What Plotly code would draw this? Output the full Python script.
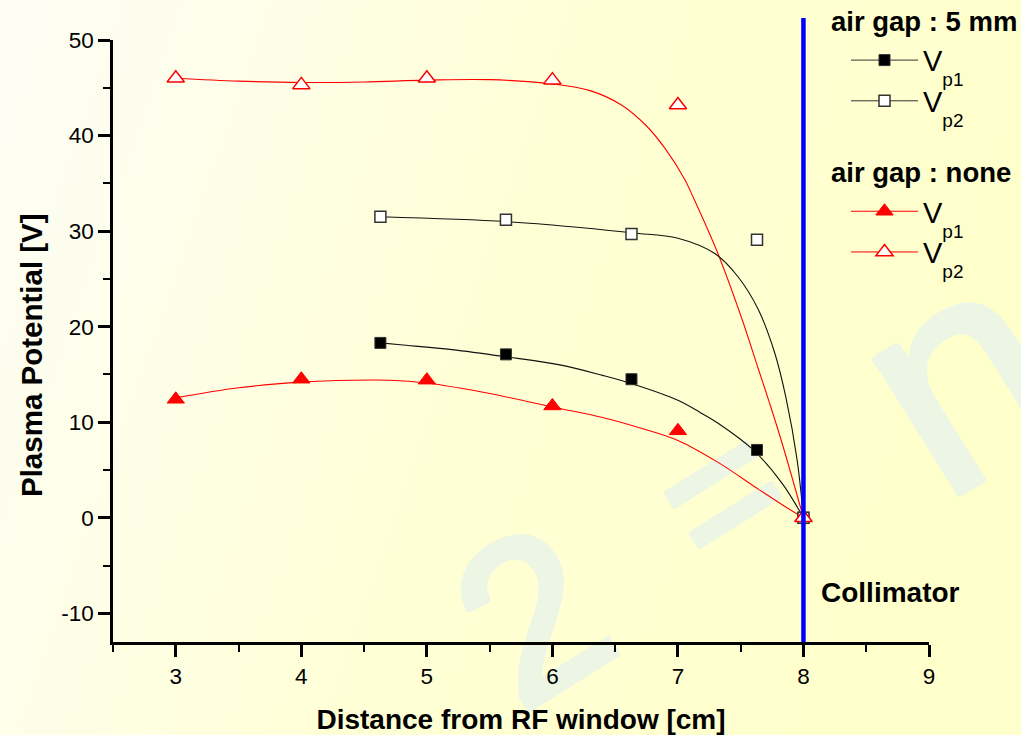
import base64
import plotly.graph_objects as go

# ---------------- data ----------------
x_5mm = [4.63, 5.63, 6.63, 7.63, 8.0]
vp1_5mm = [18.3, 17.1, 14.5, 7.1, 0.0]
vp2_5mm = [31.5, 31.2, 29.7, 29.1, 0.0]

x_none = [3, 4, 5, 6, 7, 8]
vp1_none = [12.4, 14.5, 14.4, 11.7, 9.1, 0.0]
vp2_none = [46.0, 45.3, 46.0, 45.8, 43.2, 0.0]

# fitted curves as drawn in the picture
fit_vp1_5mm_x = [4.63, 4.79, 5.2, 5.63, 6.06, 6.4, 6.64, 7.0, 7.18, 7.32, 7.6, 7.83, 8.0]
fit_vp1_5mm_y = [18.3, 18.1, 17.6, 16.85, 16.0, 14.9, 14.0, 12.3, 11.0, 9.9, 7.1, 3.6, 0.0]

fit_vp2_5mm_x = [4.63, 5.63, 6.2, 6.64, 7.0, 7.3, 7.48, 7.64, 7.77, 7.86, 7.95, 8.0]
fit_vp2_5mm_y = [31.5, 31.0, 30.4, 29.8, 29.25, 27.6, 25.2, 21.8, 17.3, 12.6, 6.0, 0.0]

fit_vp1_none_x = [3.0, 3.5, 4.0, 4.4, 4.7, 5.0, 5.5, 6.0, 6.4, 6.7, 7.0, 7.32, 7.64, 7.85, 8.0]
fit_vp1_none_y = [12.55, 13.6, 14.2, 14.4, 14.4, 14.1, 13.0, 11.6, 10.5, 9.4, 8.1, 5.8, 3.0, 1.2, 0.0]

fit_vp2_none_x = [3.0, 3.5, 4.0, 4.5, 5.0, 5.5, 6.0, 6.3, 6.55, 6.75, 6.9, 7.05, 7.13, 7.32, 7.51,
                  7.64, 7.73, 7.83, 8.0]
fit_vp2_none_y = [46.0, 45.7, 45.55, 45.6, 45.8, 45.85, 45.4, 44.7, 43.2, 41.0, 38.6, 35.5, 33.3, 27.6,
                  20.8, 15.6, 12.0, 7.8, 0.0]

collimator_x = 8
x_ticks = [3, 4, 5, 6, 7, 8, 9]
y_ticks = [-10, 0, 10, 20, 30, 40, 50]

# ---------------- figure ----------------
W, H = 1021, 735
L, R, T, B = 113, 92, 40, 93
PW, PH = W - L - R, H - T - B

BLACK = "#111111"
RED = "#ff0000"
FONT = "Arial, Liberation Sans, sans-serif"

fig = go.Figure()

# fitted curves
for fx, fy, col in [
    (fit_vp2_none_x, fit_vp2_none_y, RED),
    (fit_vp1_none_x, fit_vp1_none_y, RED),
    (fit_vp2_5mm_x, fit_vp2_5mm_y, BLACK),
    (fit_vp1_5mm_x, fit_vp1_5mm_y, BLACK),
]:
    fig.add_trace(go.Scatter(x=fx, y=fy, mode="lines", line=dict(color=col, width=1.1, shape="spline"),
                             showlegend=False, hoverinfo="skip"))

# data markers
fig.add_trace(go.Scatter(x=x_5mm, y=vp1_5mm, mode="markers", showlegend=False,
                         marker=dict(symbol="square", size=11, color="black", line=dict(color="#333", width=1))))
fig.add_trace(go.Scatter(x=x_5mm, y=vp2_5mm, mode="markers", showlegend=False,
                         marker=dict(symbol="square", size=11, color="white", line=dict(color="#333", width=1.5))))
fig.add_trace(go.Scatter(x=x_none, y=vp1_none, mode="markers", showlegend=False,
                         marker=dict(symbol="triangle-up", size=15, color=RED, line=dict(color=RED, width=1))))
fig.add_trace(go.Scatter(x=x_none, y=vp2_none, mode="markers", showlegend=False,
                         marker=dict(symbol="triangle-up", size=15, color="white", line=dict(color=RED, width=1.5))))

# legend entries
leg_font = dict(family=FONT, size=29, color="black")
title_font = dict(family=FONT, size=27.5, color="black")
SUB = "<span style='font-size:19px;baseline-shift:-15px'>{}</span>"
fig.add_trace(go.Scatter(x=[None], y=[None], mode="lines+markers", name="V" + SUB.format("p1"),
                         legendgroup="g5", legendgrouptitle=dict(text="<b>air gap : 5 mm</b>", font=title_font),
                         line=dict(color="#333", width=1),
                         marker=dict(symbol="square", size=11, color="black", line=dict(color="#333", width=1))))
fig.add_trace(go.Scatter(x=[None], y=[None], mode="lines+markers", name="V" + SUB.format("p2"),
                         legendgroup="g5",
                         line=dict(color="#333", width=1),
                         marker=dict(symbol="square", size=11, color="white", line=dict(color="#333", width=1.5))))
fig.add_trace(go.Scatter(x=[None], y=[None], mode="lines+markers", name="V" + SUB.format("p1"),
                         legendgroup="gn", legendgrouptitle=dict(text="<b>air gap : none</b>", font=title_font),
                         line=dict(color=RED, width=1),
                         marker=dict(symbol="triangle-up", size=15, color=RED, line=dict(color=RED, width=1))))
fig.add_trace(go.Scatter(x=[None], y=[None], mode="lines+markers", name="V" + SUB.format("p2"),
                         legendgroup="gn",
                         line=dict(color=RED, width=1),
                         marker=dict(symbol="triangle-up", size=15, color="white", line=dict(color=RED, width=1.5))))
# empty spacer row so the last subscript is not clipped by the legend box
fig.add_trace(go.Scatter(x=[None], y=[None], mode="lines", name=" ", legendgroup="gn",
                         line=dict(color="rgba(0,0,0,0)", width=0), hoverinfo="skip"))

# background gradient + faint watermark as an svg image
def wm(ch, cx, cy, size):
    return (f'<text x="{cx}" y="{cy}" transform="rotate(-32 {cx} {cy})" font-family="Liberation Sans, Arial" '
            f'font-size="{size}" text-anchor="middle" dominant-baseline="central" fill="#edf6e4" '
            f'stroke="#edf6e4" stroke-width="7" stroke-linejoin="round">{ch}</text>')

svg = f'''<svg xmlns="http://www.w3.org/2000/svg" width="{W}" height="{H}" viewBox="0 0 {W} {H}">
<defs><linearGradient id="g" x1="0" y1="0" x2="1" y2="0.25">
<stop offset="0" stop-color="#fdfdf5"/><stop offset="0.2" stop-color="#fefeec"/>
<stop offset="0.55" stop-color="#ffffd6"/><stop offset="1" stop-color="#ffffcc"/></linearGradient></defs>
<rect width="{W}" height="{H}" fill="url(#g)"/>
{wm("2", 532, 615, 225)}
{wm("=", 721, 492, 190)}
{wm("n", 958, 372, 300)}
</svg>'''
uri = "data:image/svg+xml;base64," + base64.b64encode(svg.encode()).decode()
fig.add_layout_image(dict(source=uri, xref="paper", yref="paper", x=-L / PW, y=1 + T / PH,
                          sizex=W / PW, sizey=H / PH, xanchor="left", yanchor="top",
                          sizing="stretch", layer="below"))

# collimator line
fig.add_shape(type="line", xref="x", yref="paper", x0=collimator_x, x1=collimator_x,
              y0=0, y1=1 + 22 / PH, line=dict(color="#0000ff", width=4.5), layer="above")
fig.add_annotation(text="<b>Collimator</b>", xref="paper", yref="y", x=(819 - L) / PW, y=-7.85,
                   xanchor="left", yanchor="middle", showarrow=False,
                   font=dict(family=FONT, size=28, color="black"))
# y axis title (placed as in the picture, slightly below the plot centre)
fig.add_annotation(text="<b>Plasma Potential [V]</b>", xref="paper", yref="paper",
                   x=(31 - L) / PW, y=1 - (355 - T) / PH, xanchor="center", yanchor="middle",
                   textangle=-90, showarrow=False, font=dict(family=FONT, size=29.5, color="black"))

axis_common = dict(showline=True, linecolor="black", linewidth=2.5, ticks="outside", ticklen=12,
                   tickwidth=2.5, tickcolor="black", showgrid=False, zeroline=False, mirror=False,
                   tickfont=dict(family=FONT, size=22.5, color="black"))

fig.update_layout(
    width=W, height=H, margin=dict(l=L, r=R, t=T, b=B, autoexpand=False),
    paper_bgcolor="white", plot_bgcolor="rgba(0,0,0,0)",
    xaxis=dict(range=[2.5, 9], tickvals=x_ticks, ticktext=[str(v) for v in x_ticks],
               minor=dict(dtick=0.5, tick0=0, ticks="outside", ticklen=7, tickwidth=2, tickcolor="black"),
               title=dict(text="<b>Distance from RF window [cm]</b>", standoff=24,
                          font=dict(family=FONT, size=28, color="black")),
               **axis_common),
    yaxis=dict(range=[-13, 50], tickvals=y_ticks, ticktext=[str(v) for v in y_ticks],
               minor=dict(dtick=5, tick0=0, ticks="outside", ticklen=7, tickwidth=2, tickcolor="black"),
               **axis_common),
    legend=dict(x=(826 - L) / PW, y=1 + 44 / PH, xanchor="left", yanchor="top",
                bgcolor="rgba(0,0,0,0)", font=leg_font, itemwidth=67, tracegroupgap=31,
                indentation=20),
    showlegend=True,
)

fig.write_html("out.html")
